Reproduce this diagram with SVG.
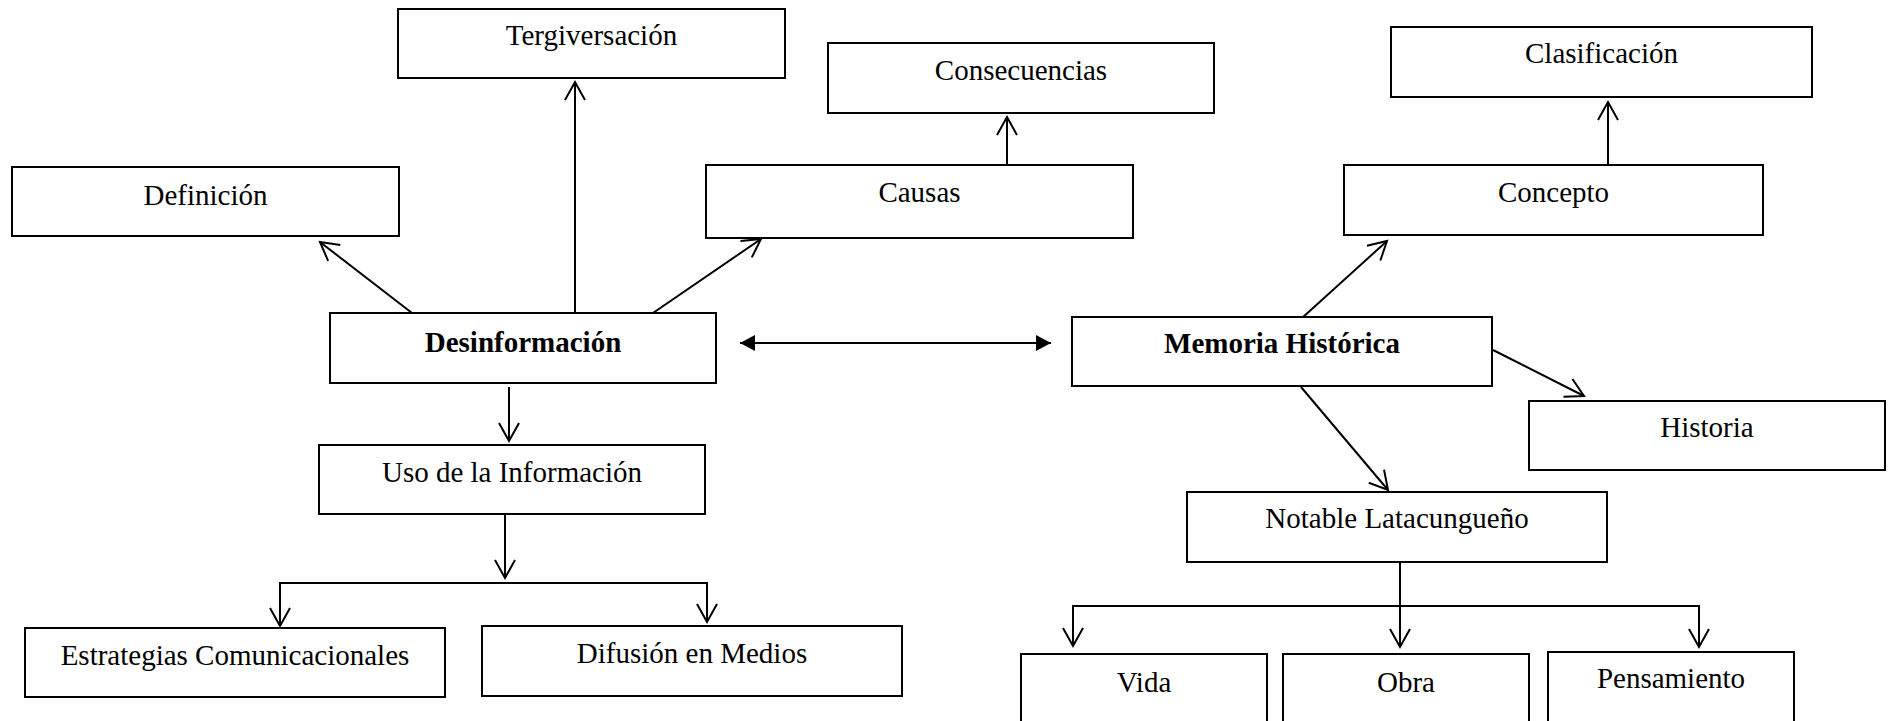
<svg xmlns="http://www.w3.org/2000/svg" width="1890" height="721" viewBox="0 0 1890 721">
<style>
.box{fill:#fff;stroke:#000;stroke-width:2}
.t{font-family:"Liberation Serif","Times New Roman",serif;font-size:29px;text-anchor:middle;fill:#000}
.b{font-weight:bold}
.c{fill:none;stroke:#000;stroke-width:2}
</style>
<defs>
<marker id="open" markerUnits="userSpaceOnUse" viewBox="-21 -12 23 24" refX="0" refY="0" markerWidth="23" markerHeight="24" orient="auto" overflow="visible">
<path d="M-18,-10 L0,0 L-18,10" fill="none" stroke="#000" stroke-width="2"/>
</marker>
<marker id="solid" markerUnits="userSpaceOnUse" viewBox="-16 -9 17 18" refX="0" refY="0" markerWidth="17" markerHeight="18" orient="auto-start-reverse" overflow="visible">
<path d="M-15,-8 L0,0 L-15,8 Z" fill="#000"/>
</marker>
</defs>
<rect width="1890" height="721" fill="#fff"/>
<g id="connectors">
<line class="c" x1="412" y1="313" x2="320" y2="242" marker-end="url(#open)"/>
<line class="c" x1="575" y1="317" x2="575" y2="82" marker-end="url(#open)"/>
<line class="c" x1="653" y1="313" x2="761" y2="239" marker-end="url(#open)"/>
<line class="c" x1="1007" y1="165" x2="1007" y2="117" marker-end="url(#open)"/>
<line class="c" x1="740" y1="343" x2="1051" y2="343" stroke-width="2.5" marker-start="url(#solid)" marker-end="url(#solid)"/>
<line class="c" x1="1302" y1="318" x2="1387" y2="241" marker-end="url(#open)"/>
<line class="c" x1="1608" y1="165" x2="1608" y2="102" marker-end="url(#open)"/>
<line class="c" x1="1493" y1="350" x2="1584" y2="396" marker-end="url(#open)"/>
<line class="c" x1="1301" y1="387" x2="1388" y2="490" marker-end="url(#open)"/>
<line class="c" x1="509" y1="387" x2="509" y2="441" marker-end="url(#open)"/>
<line class="c" x1="505" y1="514" x2="505" y2="578" marker-end="url(#open)"/>
<path class="c" d="M505,583 H280 V626" marker-end="url(#open)"/>
<path class="c" d="M505,583 H707 V622" marker-end="url(#open)"/>
<line class="c" x1="1400" y1="562" x2="1400" y2="647" marker-end="url(#open)"/>
<path class="c" d="M1400,606 H1073 V646" marker-end="url(#open)"/>
<path class="c" d="M1400,606 H1699 V647" marker-end="url(#open)"/>
</g>
<g id="tergiversacion"><rect class="box" x="398" y="9" width="387" height="69"/><text class="t" x="591.5" y="45">Tergiversación</text></g>
<g id="definicion"><rect class="box" x="12" y="167" width="387" height="69"/><text class="t" x="205.5" y="205">Definición</text></g>
<g id="desinformacion"><rect class="box" x="330" y="313" width="386" height="70"/><text class="t b" x="523" y="352">Desinformación</text></g>
<g id="consecuencias"><rect class="box" x="828" y="43" width="386" height="70"/><text class="t" x="1021" y="80">Consecuencias</text></g>
<g id="causas"><rect class="box" x="706" y="165" width="427" height="73"/><text class="t" x="919.5" y="202">Causas</text></g>
<g id="clasificacion"><rect class="box" x="1391" y="27" width="421" height="70"/><text class="t" x="1601.5" y="63">Clasificación</text></g>
<g id="concepto"><rect class="box" x="1344" y="165" width="419" height="70"/><text class="t" x="1553.5" y="202">Concepto</text></g>
<g id="memoria"><rect class="box" x="1072" y="317" width="420" height="69"/><text class="t b" x="1282" y="353">Memoria Histórica</text></g>
<g id="uso"><rect class="box" x="319" y="445" width="386" height="69"/><text class="t" x="512" y="482">Uso de la Información</text></g>
<g id="estrategias"><rect class="box" x="25" y="628" width="420" height="69"/><text class="t" x="235" y="665">Estrategias Comunicacionales</text></g>
<g id="difusion"><rect class="box" x="482" y="626" width="420" height="70"/><text class="t" x="692" y="663">Difusión en Medios</text></g>
<g id="historia"><rect class="box" x="1529" y="401" width="356" height="69"/><text class="t" x="1707" y="437">Historia</text></g>
<g id="notable"><rect class="box" x="1187" y="492" width="420" height="70"/><text class="t" x="1397" y="528">Notable Latacungueño</text></g>
<g id="vida"><rect class="box" x="1021" y="654" width="246" height="80"/><text class="t" x="1144" y="692">Vida</text></g>
<g id="obra"><rect class="box" x="1283" y="654" width="246" height="80"/><text class="t" x="1406" y="692">Obra</text></g>
<g id="pensamiento"><rect class="box" x="1548" y="652" width="246" height="80"/><text class="t" x="1671" y="688">Pensamiento</text></g>
</svg>
